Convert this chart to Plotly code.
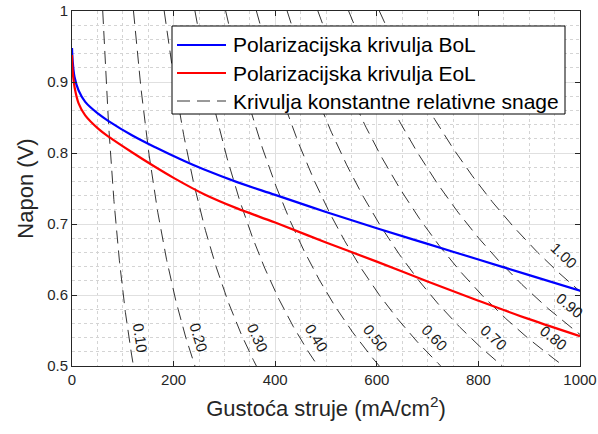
import numpy as np
import plotly.graph_objects as go

# ---- data ----
i_bol = [0, 1.2, 5, 13, 26, 52, 72, 118, 164, 220, 259, 325, 400, 500, 600, 700, 800, 900, 1000]
v_bol = [0.948, 0.931, 0.907, 0.888, 0.872, 0.855, 0.845, 0.825, 0.808, 0.789, 0.777, 0.759, 0.741,
         0.717, 0.694, 0.672, 0.650, 0.628, 0.606]
i_eol = [0, 1.2, 5, 13, 26, 52, 72, 118, 160, 200, 260, 325, 400, 500, 600, 700, 800, 900, 1000]
v_eol = [0.938, 0.916, 0.893, 0.870, 0.853, 0.834, 0.823, 0.801, 0.782, 0.765, 0.742, 0.722, 0.702,
         0.674, 0.647, 0.619, 0.592, 0.566, 0.542]
p_levels = [0.10, 0.20, 0.30, 0.40, 0.50, 0.60, 0.70, 0.80, 0.90, 1.00]
label_center_v = [0.54, 0.54, 0.54, 0.54, 0.54, 0.54, 0.54, 0.54, 0.585, 0.655]
p_max = 605.0  # reference power (mW/cm^2) = BoL power at 1000 mA/cm^2

NAME_BOL = "Polarizacijska krivulja BoL"
NAME_EOL = "Polarizacijska krivulja EoL"
NAME_ISO = "Krivulja konstantne relativne snage"

X_RANGE = [0, 1000]
Y_RANGE = [0.5, 1.0]
FONT = "Liberation Sans, Arial, sans-serif"
TXT = "#262626"
DASH = "13px,7px"

W, H = 598, 434
ML, MR, MT, MB = 72, 18, 11, 68
PW, PH = W - ML - MR, H - MT - MB
sx = PW / (X_RANGE[1] - X_RANGE[0])
sy = PH / (Y_RANGE[1] - Y_RANGE[0])

fig = go.Figure()

# constant relative power curves
for k, lv in enumerate(p_levels):
    P = lv * p_max
    i_lo = max(P / Y_RANGE[1], 0.0)
    i_hi = min(P / Y_RANGE[0], X_RANGE[1])
    ii = np.linspace(i_lo, i_hi, 200)
    fig.add_trace(go.Scatter(
        x=ii, y=P / ii, mode="lines",
        line=dict(color="black", width=0.8, dash=DASH),
        name=NAME_ISO, showlegend=False, hoverinfo="skip"))

fig.add_trace(go.Scatter(x=i_bol, y=v_bol, mode="lines", line=dict(color="#0000ff", width=2.2, shape="spline"),
                         name=NAME_BOL, showlegend=False))
fig.add_trace(go.Scatter(x=i_eol, y=v_eol, mode="lines", line=dict(color="#ff0000", width=2.2, shape="spline"),
                         name=NAME_EOL, showlegend=False))

# contour-style labels next to each curve
for lv, vc in zip(p_levels, label_center_v):
    P = lv * p_max
    v = vc
    for _ in range(4):
        i = P / v
        slope = (P / i ** 2) * sy / sx
        a = np.arctan(slope)
        d = 10 + 8 * np.cos(a)
        xs, ys = d * np.sin(a), d * np.cos(a)
        v = vc - ys / sy
    i = P / v
    fig.add_annotation(x=i, y=v, text=f"{lv:.2f}", showarrow=False, textangle=float(np.degrees(a)),
                       xshift=float(xs), yshift=float(ys),
                       font=dict(family=FONT, size=15, color="#1a1a1a"))

# ---- legend box (drawn in paper coordinates of the plot area) ----
def px_x(px):
    return (px - ML) / PW


def px_y(py):
    return 1 - (py - MT) / PH


LEG_BOX = (172, 26, 565, 114)  # left, top, right, bottom in page pixels
LEG_ROWS = (45, 73, 101)
LEG_LINE = (177, 226)
LEG_TEXT_X = 231
fig.add_shape(type="rect", xref="paper", yref="paper",
              x0=px_x(LEG_BOX[0]), x1=px_x(LEG_BOX[2]), y0=px_y(LEG_BOX[3]), y1=px_y(LEG_BOX[1]),
              line=dict(color="black", width=1), fillcolor="white", layer="above")
leg_styles = [dict(color="#0000ff", width=2.2), dict(color="#ff0000", width=2.2),
              dict(color="black", width=0.8, dash=DASH)]
for row, name, st in zip(LEG_ROWS, [NAME_BOL, NAME_EOL, NAME_ISO], leg_styles):
    fig.add_shape(type="line", xref="paper", yref="paper",
                  x0=px_x(LEG_LINE[0]), x1=px_x(LEG_LINE[1]), y0=px_y(row), y1=px_y(row),
                  line=st, layer="above")
    fig.add_annotation(xref="paper", yref="paper", x=px_x(LEG_TEXT_X), y=px_y(row), text=name,
                       showarrow=False, xanchor="left", yanchor="middle",
                       font=dict(family=FONT, size=21, color="black"))

axis_common = dict(
    showline=True, linecolor=TXT, linewidth=1, mirror="ticks",
    ticks="inside", ticklen=5, tickcolor=TXT,
    showgrid=True, gridcolor="#e0e0e0", gridwidth=1,
    zeroline=False, automargin=False,
    tickfont=dict(family=FONT, size=15, color=TXT),
)

fig.update_xaxes(range=X_RANGE, dtick=200, tick0=0,
                 minor=dict(dtick=50, showgrid=True, gridcolor="#d4d4d4", griddash="dot", gridwidth=1),
                 title=dict(text="Gustoća struje (mA/cm<sup>2</sup>)", font=dict(family=FONT, size=22, color=TXT),
                            standoff=13),
                 **axis_common)
fig.update_yaxes(range=Y_RANGE, dtick=0.1, tick0=0.5,
                 minor=dict(dtick=0.02, showgrid=True, gridcolor="#d4d4d4", griddash="dot", gridwidth=1),
                 title=dict(text="Napon (V)", font=dict(family=FONT, size=22, color=TXT), standoff=7),
                 **axis_common)

fig.update_layout(
    width=W, height=H,
    margin=dict(l=ML, r=MR, t=MT, b=MB),
    plot_bgcolor="white", paper_bgcolor="white",
    showlegend=False,
)

# remove the default 8px page margin so the figure sits at the window origin
fig.write_html("out.html", config={"displayModeBar": False},
               post_script="document.body.style.margin='0';")
